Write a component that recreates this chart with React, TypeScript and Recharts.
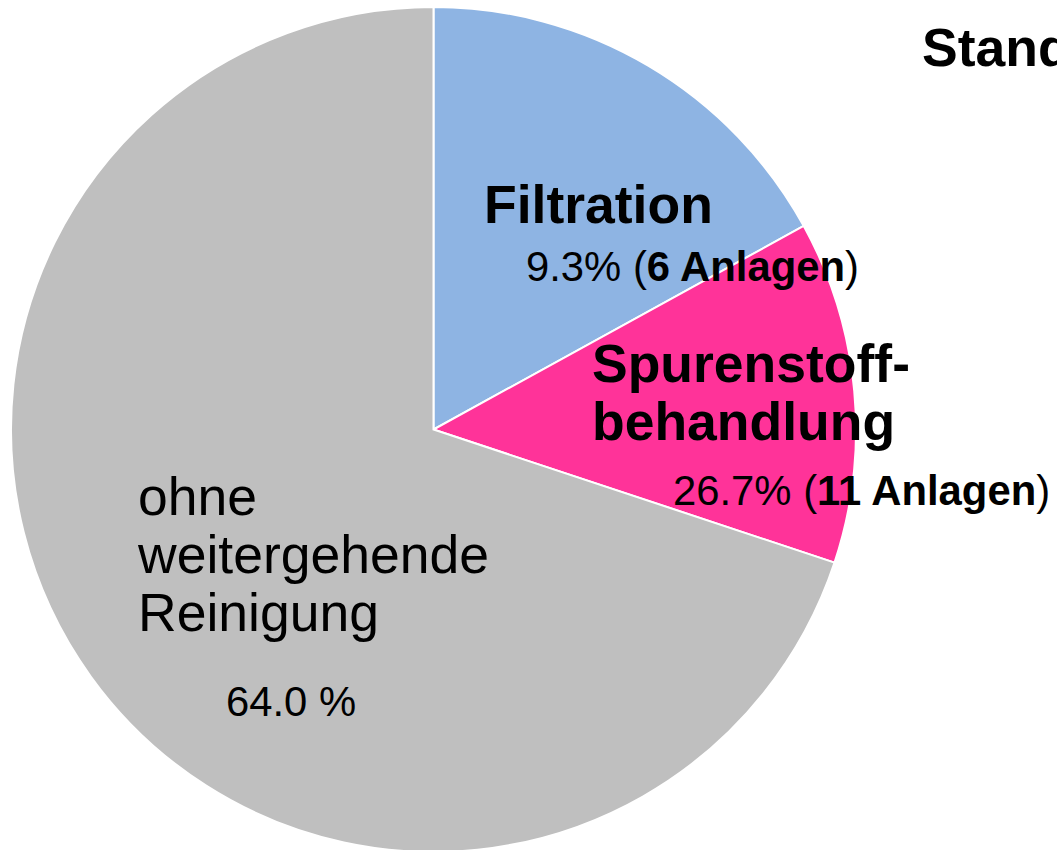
import { PieChart, Pie, Cell } from 'recharts';

// slice sizes as drawn (sweep of each wedge), clockwise from 12 o'clock
const categories = ['Filtration', 'Spurenstoffbehandlung', 'ohne weitergehende Reinigung'];
const sliceValues = [17.0, 13.1, 69.9];
// label texts as printed in the chart
const nameLines = [['Filtration'], ['Spurenstoff-', 'behandlung'], ['ohne', 'weitergehende', 'Reinigung']];
const percentLabels = ['9.3%', '26.7%', '64.0 %'];
const plantCounts: (number | null)[] = [6, 11, null];
const colors = ['#8EB4E3', '#FF3399', '#BFBFBF'];
const headerText = 'Stand';

const data = categories.map((name, i) => ({ name, value: sliceValues[i] }));

const FONT = '"Liberation Sans", Arial, Helvetica, sans-serif';

// text block placement (left x, baselines) for each slice label
const labelLayout = [
  { x: 484, nameY: 223, nameBold: true, pctX: 526, pctY: 281 },
  { x: 592, nameY: 382, nameBold: true, pctX: 673, pctY: 505 },
  { x: 138, nameY: 515, nameBold: false, pctX: 226, pctY: 716 },
];
const LINE_H = 58;

function renderLabel(props: any) {
  const i = props.index;
  const lay = labelLayout[i];
  const count = plantCounts[i];
  return (
    <g key={`lbl-${i}`}>
      <text
        x={lay.x}
        y={lay.nameY}
        fontFamily={FONT}
        fontSize={53.5}
        fontWeight={lay.nameBold ? 'bold' : 'normal'}
        fill="#000"
      >
        {nameLines[i].map((line, j) => (
          <tspan key={j} x={lay.x} dy={j === 0 ? 0 : LINE_H}>
            {line}
          </tspan>
        ))}
      </text>
      <text x={lay.pctX} y={lay.pctY} fontFamily={FONT} fontSize={41.8} fill="#000">
        {count == null ? (
          percentLabels[i]
        ) : (
          <>
            <tspan>{`${percentLabels[i]} (`}</tspan>
            <tspan fontWeight="bold">{`${count} Anlagen`}</tspan>
            <tspan>)</tspan>
          </>
        )}
      </text>
    </g>
  );
}

export default function App() {
  return (
    <div style={{ position: 'absolute', left: 0, top: 0, width: 1057, height: 850, background: '#fff' }}>
      <PieChart width={1057} height={850} margin={{ top: 0, right: 0, bottom: 0, left: 0 }}>
        <Pie
          data={data}
          dataKey="value"
          nameKey="name"
          cx={433.5}
          cy={429.5}
          outerRadius={422.5}
          startAngle={90}
          endAngle={-270}
          stroke="#fff"
          strokeWidth={2}
          labelLine={false}
          label={renderLabel}
          isAnimationActive={false}
        >
          {data.map((d, i) => (
            <Cell key={d.name} fill={colors[i]} />
          ))}
        </Pie>
        <text x={922} y={66} fontFamily={FONT} fontSize={53.5} fontWeight="bold" fill="#000">
          {headerText}
        </text>
      </PieChart>
    </div>
  );
}
